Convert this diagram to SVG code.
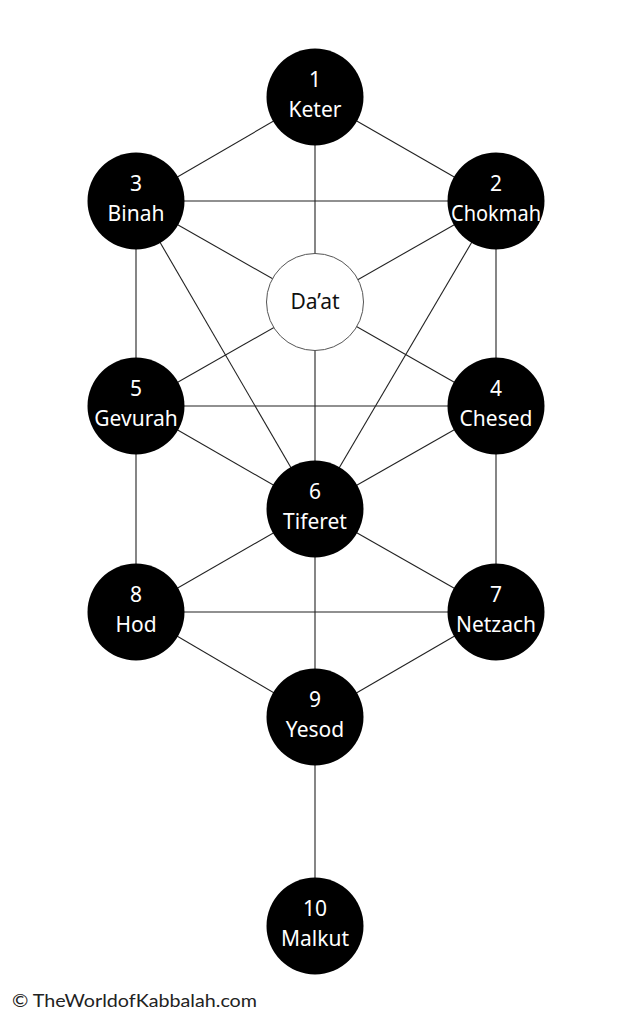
<svg xmlns="http://www.w3.org/2000/svg" width="633" height="1024" viewBox="0 0 633 1024">
<style>
.bg{fill:#ffffff}
.link{stroke:#222222;stroke-width:1.1;fill:none}
.node{fill:#000000}
.daat{fill:#ffffff;stroke:#555555;stroke-width:1}
.lbl{font-family:"Noto Sans","Open Sans",sans-serif;font-size:21px;fill:#ffffff;text-anchor:middle}
.dlbl{font-family:"Noto Sans","Open Sans",sans-serif;font-size:21px;fill:#111111;text-anchor:middle}
.foot{font-family:"Lato","Open Sans",sans-serif;font-size:17px;fill:#222222}
</style>
<rect class="bg" x="0" y="0" width="633" height="1024"/>
<g id="connectors">
<line class="link" x1="315" y1="97" x2="136" y2="201"/>
<line class="link" x1="315" y1="97" x2="496" y2="201"/>
<line class="link" x1="315" y1="97" x2="315" y2="509"/>
<line class="link" x1="136" y1="201" x2="496" y2="201"/>
<line class="link" x1="136" y1="201" x2="496" y2="406"/>
<line class="link" x1="496" y1="201" x2="136" y2="406"/>
<line class="link" x1="136" y1="201" x2="136" y2="406"/>
<line class="link" x1="496" y1="201" x2="496" y2="406"/>
<line class="link" x1="136" y1="201" x2="315" y2="509"/>
<line class="link" x1="496" y1="201" x2="315" y2="509"/>
<line class="link" x1="136" y1="406" x2="496" y2="406"/>
<line class="link" x1="136" y1="406" x2="315" y2="509"/>
<line class="link" x1="496" y1="406" x2="315" y2="509"/>
<line class="link" x1="136" y1="406" x2="136" y2="612"/>
<line class="link" x1="496" y1="406" x2="496" y2="612"/>
<line class="link" x1="315" y1="509" x2="136" y2="612"/>
<line class="link" x1="315" y1="509" x2="496" y2="612"/>
<line class="link" x1="315" y1="509" x2="315" y2="717"/>
<line class="link" x1="136" y1="612" x2="496" y2="612"/>
<line class="link" x1="136" y1="612" x2="315" y2="717"/>
<line class="link" x1="496" y1="612" x2="315" y2="717"/>
<line class="link" x1="315" y1="717" x2="315" y2="926"/>
</g>
<g id="keter"><circle class="node" cx="315" cy="97" r="48.5"/><text class="lbl" x="315" y="87">1</text><text class="lbl" x="315" y="117">Keter</text></g>
<g id="binah"><circle class="node" cx="136" cy="201" r="48.5"/><text class="lbl" x="136" y="191">3</text><text class="lbl" x="136" y="221">Binah</text></g>
<g id="chokmah"><circle class="node" cx="496" cy="201" r="48.5"/><text class="lbl" x="496" y="191">2</text><text class="lbl" x="496" y="221" textLength="90" lengthAdjust="spacingAndGlyphs">Chokmah</text></g>
<g id="daat"><circle class="daat" cx="315" cy="302" r="48.5"/><text class="dlbl" x="315" y="309">Da’at</text></g>
<g id="gevurah"><circle class="node" cx="136" cy="406" r="48.5"/><text class="lbl" x="136" y="396">5</text><text class="lbl" x="136" y="426">Gevurah</text></g>
<g id="chesed"><circle class="node" cx="496" cy="406" r="48.5"/><text class="lbl" x="496" y="396">4</text><text class="lbl" x="496" y="426">Chesed</text></g>
<g id="tiferet"><circle class="node" cx="315" cy="509" r="48.5"/><text class="lbl" x="315" y="499">6</text><text class="lbl" x="315" y="529">Tiferet</text></g>
<g id="hod"><circle class="node" cx="136" cy="612" r="48.5"/><text class="lbl" x="136" y="602">8</text><text class="lbl" x="136" y="632">Hod</text></g>
<g id="netzach"><circle class="node" cx="496" cy="612" r="48.5"/><text class="lbl" x="496" y="602">7</text><text class="lbl" x="496" y="632">Netzach</text></g>
<g id="yesod"><circle class="node" cx="315" cy="717" r="48.5"/><text class="lbl" x="315" y="707">9</text><text class="lbl" x="315" y="737">Yesod</text></g>
<g id="malkut"><circle class="node" cx="315" cy="926" r="48.5"/><text class="lbl" x="315" y="916">10</text><text class="lbl" x="315" y="946">Malkut</text></g>
<text class="foot" x="12" y="1007" textLength="245" lengthAdjust="spacingAndGlyphs">© TheWorldofKabbalah.com</text>
</svg>
